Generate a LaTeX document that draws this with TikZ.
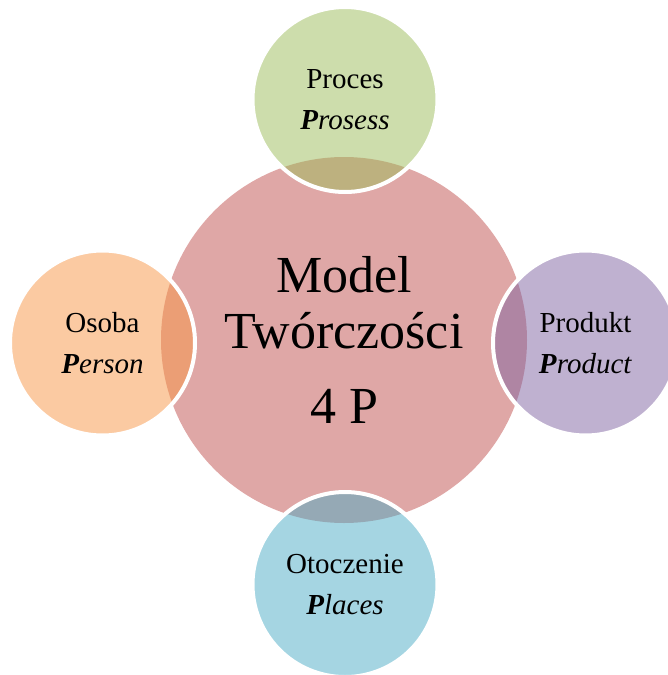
\documentclass[tikz,border=0pt]{standalone}
\usepackage{fontspec}
\setmainfont{Liberation Serif}
\definecolor{hubred}{HTML}{C0504D}
\definecolor{procgreen}{HTML}{9BBB59}
\definecolor{osobaorange}{HTML}{F79646}
\definecolor{prodpurple}{HTML}{8064A2}
\definecolor{otocblue}{HTML}{4BACC6}
\newcommand{\enword}[2]{\textbf{\textit{#1}}\textit{#2}}
\begin{document}
\begin{tikzpicture}[x=1pt,y=-1pt,
  hub/.style={circle, fill=hubred, fill opacity=0.5, text opacity=1, minimum size=366pt, inner sep=0pt, align=center, font=\fontsize{52}{56}\selectfont},
  petal/.style={circle, draw=white, line width=4pt, fill opacity=0.5, text opacity=1, minimum size=185pt, inner sep=0pt, align=center, font=\fontsize{29}{41}\selectfont}]
\useasboundingbox (0,0) rectangle (668,675);

\node[hub] (model) at (344,340) {Model\\Twórczości\\[19pt]4 P};

\node[petal, fill=procgreen] (proces) at (345,99.5) {Proces\\\enword{P}{rosess}};
\node[petal, fill=osobaorange] (osoba) at (102.5,343) {Osoba\\\enword{P}{erson}};
\node[petal, fill=prodpurple] (produkt) at (585.5,343) {Produkt\\\enword{P}{roduct}};
\node[petal, fill=otocblue] (otoczenie) at (345,584.5) {Otoczenie\\\enword{P}{laces}};
\end{tikzpicture}
\end{document}
